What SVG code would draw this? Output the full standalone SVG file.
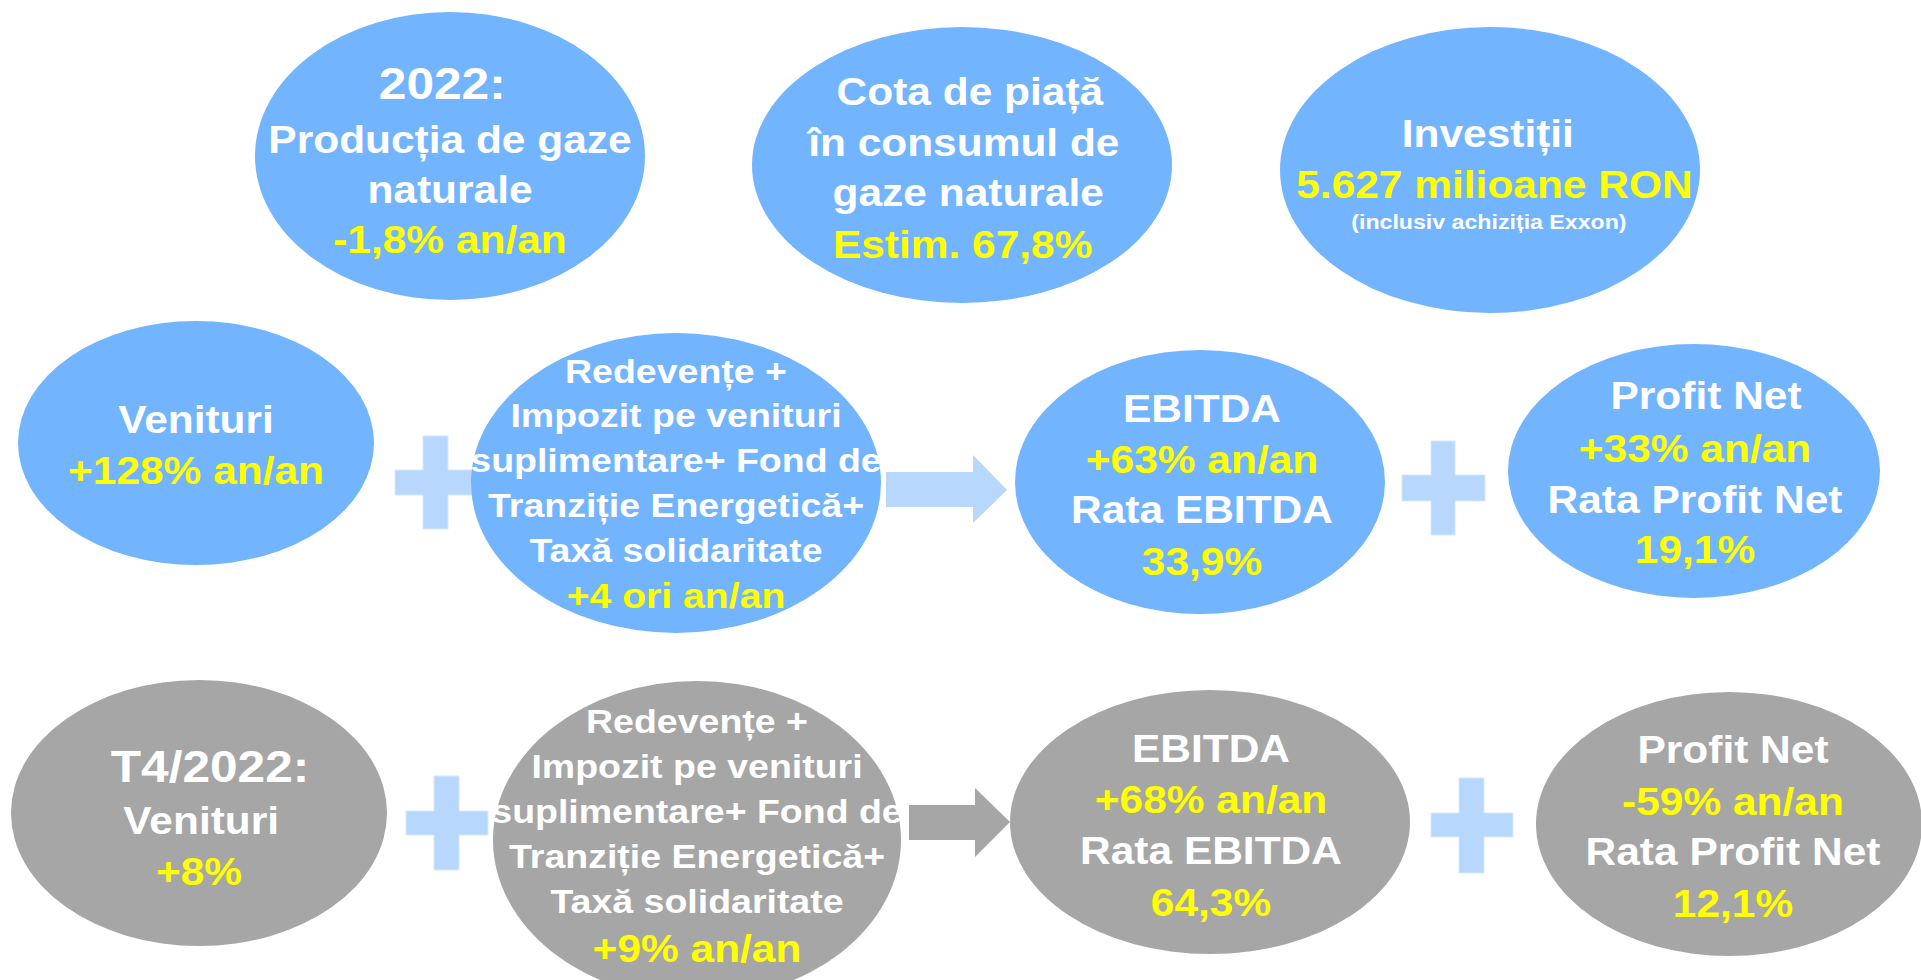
<svg xmlns="http://www.w3.org/2000/svg" width="1921" height="980" viewBox="0 0 1921 980">
<style>
.bl{fill:#72b4fe}
.gr{fill:#a6a6a6}
.pl{fill:#b7d7fc;stroke:#d6e8fd;stroke-width:1}
.ar1{fill:#b7d7fc}
.ar2{fill:#a6a6a6}
text{font-family:"Liberation Sans",Arial,sans-serif;font-weight:bold;text-anchor:middle}
.w{fill:#ffffff}
.y{fill:#ffff00}
.f45{font-size:45px}
.f38{font-size:38.5px}
.f35{font-size:35.5px}
.f34{font-size:34px}
.f21{font-size:21px}
</style>
<rect width="1921" height="980" fill="#ffffff"/>
<g id="connectors">
<path class="pl" d="M423 436H448V470H478V495H448V529H423V495H395V470H423Z"/>
<path class="ar1" d="M886 472H973V455L1007 490L973 523V507H886Z"/>
<path class="pl" d="M1431 441H1455V475H1485V501H1455V535H1431V501H1402V475H1431Z"/>
<path class="pl" d="M434 776H459V811H488V835H459V870H434V835H406V811H434Z"/>
<path class="ar2" d="M909 805H975V788L1010 822L975 857V840H909Z"/>
<path class="pl" d="M1459 778H1484V813H1513V837H1484V873H1459V837H1431V813H1459Z"/>
</g>
<g id="n-productie">
<ellipse class="bl" cx="450" cy="156" rx="195" ry="144"/>
<g transform="matrix(1.103 0 0 1 450 0)">
<text class="w f45" x="-7" y="99">2022:</text>
<text class="w f38" x="0" y="153">Producția de gaze</text>
<text class="w f38" x="0" y="203">naturale</text>
<text class="y f38" x="0" y="253">-1,8% an/an</text>
</g>
</g>
<g id="n-cota">
<ellipse class="bl" cx="962" cy="165" rx="210" ry="138"/>
<g transform="matrix(1.103 0 0 1 966 0)">
<text class="w f38" x="3.5" y="105">Cota de piață</text>
<text class="w f38" x="-2" y="156">în consumul de</text>
<text class="w f38" x="2" y="206">gaze naturale</text>
<text class="y f38" x="-3" y="258">Estim. 67,8%</text>
</g>
</g>
<g id="n-investitii">
<ellipse class="bl" cx="1490" cy="170" rx="210" ry="143"/>
<g transform="matrix(1.103 0 0 1 1490 0)">
<text class="w f38" x="-2" y="147">Investiții</text>
<text class="y f38" x="4" y="198">5.627 milioane RON</text>
<text class="w f21" x="-1" y="229">(inclusiv achiziția Exxon)</text>
</g>
</g>
<g id="n-venituri">
<ellipse class="bl" cx="196" cy="443" rx="178" ry="122"/>
<g transform="matrix(1.103 0 0 1 196 0)">
<text class="w f38" x="0" y="433">Venituri</text>
<text class="y f38" x="0" y="484">+128% an/an</text>
</g>
</g>
<g id="n-redevente">
<ellipse class="bl" cx="676" cy="483" rx="205" ry="150"/>
<g transform="matrix(1.103 0 0 1 676 0)">
<text class="w f34" x="0" y="383">Redevențe +</text>
<text class="w f34" x="0" y="427">Impozit pe venituri</text>
<text class="w f34" x="0" y="472">suplimentare+ Fond de</text>
<text class="w f34" x="0" y="517">Tranziție Energetică+</text>
<text class="w f34" x="0" y="562">Taxă solidaritate</text>
<text class="y f35" x="0" y="608">+4 ori an/an</text>
</g>
</g>
<g id="n-ebitda">
<ellipse class="bl" cx="1200" cy="482" rx="185" ry="132"/>
<g transform="matrix(1.103 0 0 1 1202 0)">
<text class="w f38" x="0" y="422">EBITDA</text>
<text class="y f38" x="0" y="473">+63% an/an</text>
<text class="w f38" x="0" y="523">Rata EBITDA</text>
<text class="y f38" x="0" y="575">33,9%</text>
</g>
</g>
<g id="n-profit">
<ellipse class="bl" cx="1694" cy="471" rx="186" ry="127"/>
<g transform="matrix(1.103 0 0 1 1695 0)">
<text class="w f38" x="10" y="409">Profit Net</text>
<text class="y f38" x="0" y="462">+33% an/an</text>
<text class="w f38" x="0" y="513">Rata Profit Net</text>
<text class="y f38" x="0" y="563">19,1%</text>
</g>
</g>
<g id="n-t4-venituri">
<ellipse class="gr" cx="199" cy="813" rx="188" ry="133"/>
<g transform="matrix(1.103 0 0 1 199 0)">
<text class="w f45" x="10" y="782">T4/2022:</text>
<text class="w f38" x="2" y="834">Venituri</text>
<text class="y f38" x="0" y="885">+8%</text>
</g>
</g>
<g id="n-t4-redevente">
<ellipse class="gr" cx="697" cy="840" rx="204" ry="159"/>
<g transform="matrix(1.103 0 0 1 697 0)">
<text class="w f34" x="0" y="733">Redevențe +</text>
<text class="w f34" x="0" y="778">Impozit pe venituri</text>
<text class="w f34" x="0" y="823">suplimentare+ Fond de</text>
<text class="w f34" x="0" y="868">Tranziție Energetică+</text>
<text class="w f34" x="0" y="913">Taxă solidaritate</text>
<text class="y f38" x="0" y="962">+9% an/an</text>
</g>
</g>
<g id="n-t4-ebitda">
<ellipse class="gr" cx="1210" cy="822" rx="200" ry="132"/>
<g transform="matrix(1.103 0 0 1 1211 0)">
<text class="w f38" x="0" y="762">EBITDA</text>
<text class="y f38" x="0" y="813">+68% an/an</text>
<text class="w f38" x="0" y="864">Rata EBITDA</text>
<text class="y f38" x="0" y="916">64,3%</text>
</g>
</g>
<g id="n-t4-profit">
<ellipse class="gr" cx="1729" cy="824" rx="193" ry="132"/>
<g transform="matrix(1.103 0 0 1 1733 0)">
<text class="w f38" x="0" y="763">Profit Net</text>
<text class="y f38" x="0" y="815">-59% an/an</text>
<text class="w f38" x="0" y="865">Rata Profit Net</text>
<text class="y f38" x="0" y="917">12,1%</text>
</g>
</g>
</svg>
